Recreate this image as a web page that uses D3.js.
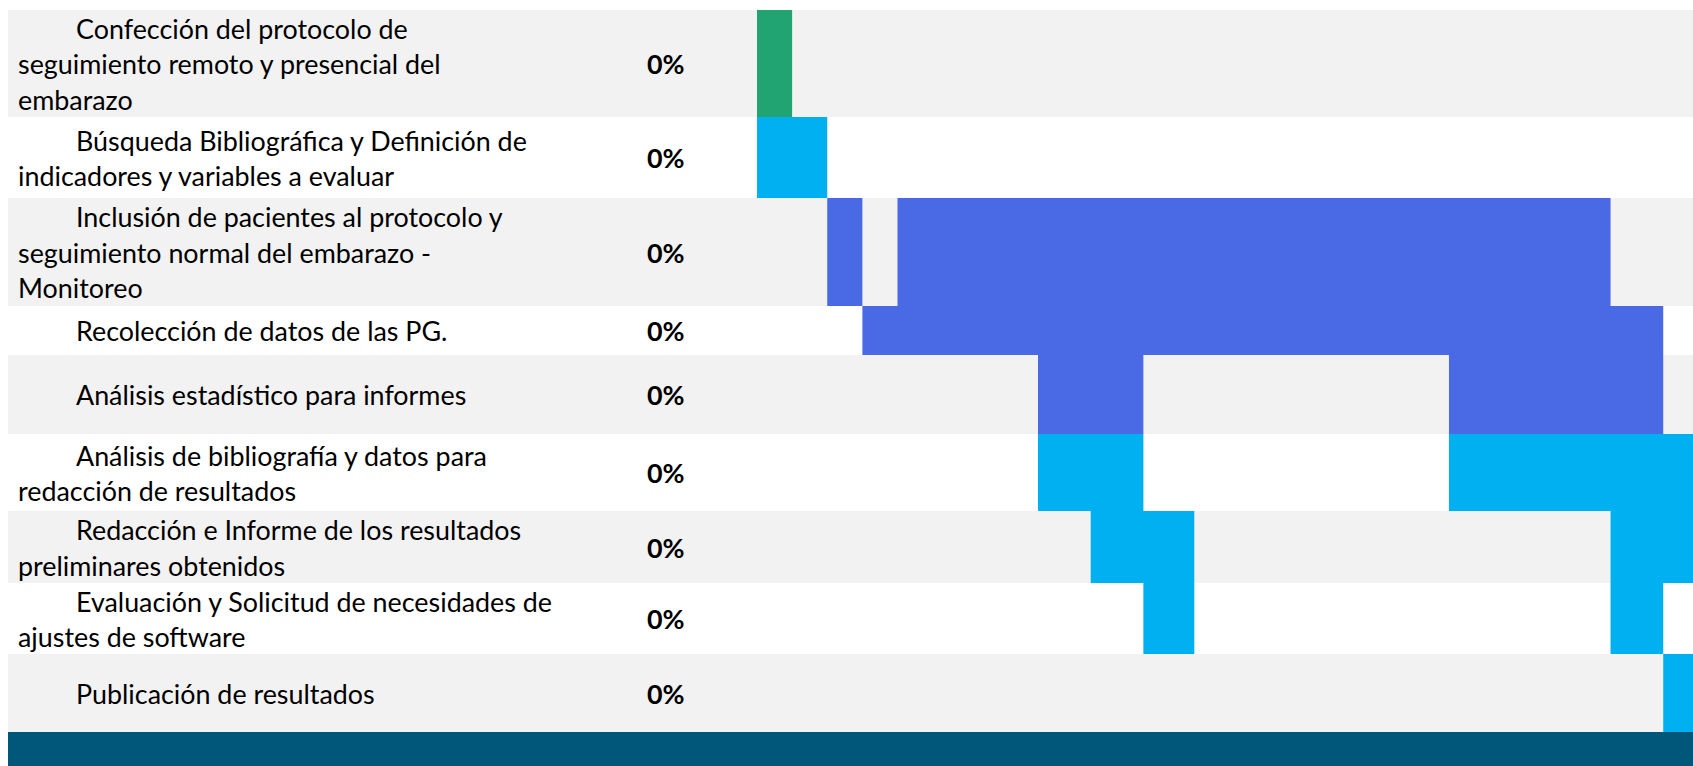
<!DOCTYPE html>
<html>
<head>
<meta charset="utf-8">
<script src="https://cdn.jsdelivr.net/npm/d3@7"></script>
<style>
  html, body { margin: 0; padding: 0; background: #fff; }
  svg { display: block; }
</style>
</head>
<body>
<svg id="chart" width="1693" height="766"></svg>
<script>
// Tareas (cada entrada = líneas del texto tal como aparece en la celda)
const taskLabels = [
  ["Confección del protocolo de", "seguimiento remoto y presencial del", "embarazo"],
  ["Búsqueda Bibliográfica y Definición de", "indicadores y variables a evaluar"],
  ["Inclusión de pacientes al protocolo y", "seguimiento normal del embarazo -", "Monitoreo"],
  ["Recolección de datos de las PG."],
  ["Análisis estadístico para informes"],
  ["Análisis de bibliografía y datos para", "redacción de resultados"],
  ["Redacción e Informe de los resultados", "preliminares obtenidos"],
  ["Evaluación y Solicitud de necesidades de", "ajustes de software"],
  ["Publicación de resultados"]
]
const progressPct = [0, 0, 0, 0, 0, 0, 0, 0, 0]

// Barras del cronograma (en unidades de período)
const barTask  = [0, 1, 2, 2,    3,  4,    4,  5,    5,    6,    6,  7,    7,    8]
const barStart = [0, 0, 2, 4,    3,  8, 19.7,  8, 19.7,  9.5, 24.3, 11, 24.3, 25.8]
const barEnd   = [1, 2, 3, 24.3, 25.8, 11, 25.8, 11, 27, 12.45, 27, 12.45, 25.8, 27]
const barKind  = ["inicio", "revision", "campo", "campo", "campo", "campo", "campo",
                  "revision", "revision", "revision", "revision", "revision", "revision", "revision"]

const kindColor = { inicio: "#21a472", revision: "#00b0f0", campo: "#4a6ae5" }

// layout
const rowHeights = [107, 81, 108, 49, 79, 77, 72, 71, 78]
const topY = 10
const leftX = 8
const width = 1693
const lineH = 35.5

const svg = d3.select("#chart")

const rowTops = [topY, ...d3.cumsum(rowHeights).map(d => d + topY)]
const y0 = i => rowTops[i]
const yMid = i => rowTops[i] + rowHeights[i] / 2

const x = d3.scaleLinear().domain([0, 8]).range([757, 1038])

// row bands
svg.append("g").selectAll("rect")
  .data(rowHeights)
  .join("rect")
  .attr("x", leftX)
  .attr("y", (d, i) => y0(i))
  .attr("width", width - leftX)
  .attr("height", d => d)
  .attr("fill", (d, i) => i % 2 === 0 ? "#f2f2f2" : "#ffffff")

// gantt bars
const bars = barTask.map((t, i) => ({ task: t, start: barStart[i], end: barEnd[i], kind: barKind[i] }))
svg.append("g").selectAll("rect")
  .data(bars)
  .join("rect")
  .attr("x", d => x(d.start))
  .attr("y", d => y0(d.task))
  .attr("width", d => x(d.end) - x(d.start))
  .attr("height", d => rowHeights[d.task])
  .attr("fill", d => kindColor[d.kind])

// fit font size so the text matches the reference cell width
const probe = svg.append("text")
  .attr("font-family", "Lato, 'Open Sans', sans-serif")
  .attr("font-size", 26)
  .text(taskLabels[0][0])
const probeW = probe.node().getComputedTextLength()
probe.remove()
const fontSize = 26 * 332 / probeW

// task labels
const labels = svg.append("g")
  .attr("font-family", "Lato, 'Open Sans', sans-serif")
  .attr("font-size", fontSize)
  .attr("fill", "#000")

labels.selectAll("text")
  .data(taskLabels)
  .join("text")
  .each(function(lines, i) {
    const n = lines.length
    d3.select(this).selectAll("tspan")
      .data(lines)
      .join("tspan")
      .attr("x", (d, j) => j === 0 ? 76 : 18)
      .attr("y", (d, j) => yMid(i) + (j - (n - 1) / 2) * lineH)
      .attr("dy", "0.4em")
      .text(d => d)
  })

// porcentaje
svg.append("g")
  .attr("font-family", "Lato, 'Open Sans', sans-serif")
  .attr("font-size", fontSize)
  .attr("font-weight", "bold")
  .attr("fill", "#000")
  .selectAll("text")
  .data(progressPct)
  .join("text")
  .attr("x", 647)
  .attr("y", (d, i) => yMid(i))
  .attr("dy", "0.4em")
  .text(d => d3.format(".0%")(d))

// bottom band
svg.append("rect")
  .attr("x", leftX)
  .attr("y", rowTops[rowTops.length - 1])
  .attr("width", width - leftX)
  .attr("height", 766 - rowTops[rowTops.length - 1])
  .attr("fill", "#00577a")
</script>
</body>
</html>
